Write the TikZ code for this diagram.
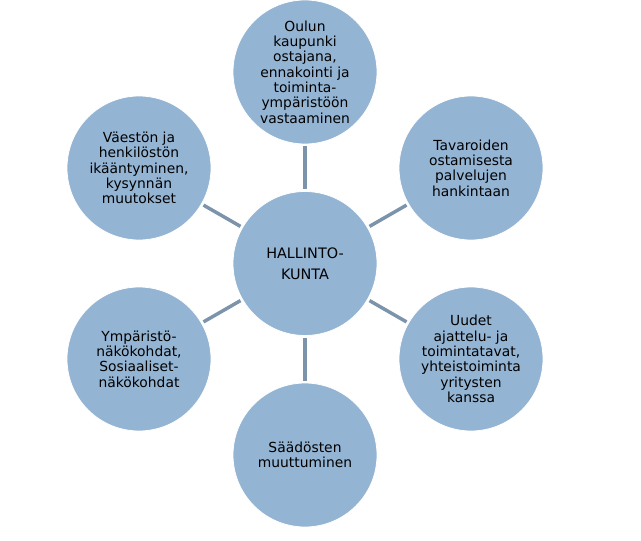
\documentclass[tikz,border=0pt]{standalone}
\usepackage{fontspec}
\setmainfont{DejaVu Sans}
\usetikzlibrary{positioning}
\definecolor{cFill}{HTML}{94B4D3}
\definecolor{cLine}{HTML}{7B94AC}
\tikzset{
  topic/.style={circle,draw=white,line width=0.6pt,fill=cFill,minimum size=108pt,
    inner sep=0pt,align=center,font=\fontsize{10.4}{11.5}\selectfont},
  hub/.style={topic,font=\fontsize{10.8}{15.75}\selectfont},
  spoke/.style={cLine,line width=2.6pt,shorten <=1.5pt,shorten >=1.5pt},
}

\begin{document}
\begin{tikzpicture}[x=0.75pt,y=-0.75pt]
\useasboundingbox (0,0) rectangle (641,541);
% keskus
\node[hub] (kunta) at (305,263.5) {HALLINTO-\\KUNTA};
% ympyrat
\node[topic] (oulu) at (305,72) {Oulun\\kaupunki\\ostajana,\\ennakointi ja\\toiminta-\\ympäristöön\\vastaaminen};
\node[topic] (tavara) at (471,168) {Tavaroiden\\ostamisesta\\palvelujen\\hankintaan};
\node[topic] (uudet) at (471,359) {Uudet\\ajattelu- ja\\toimintatavat,\\yhteistoiminta\\yritysten\\kanssa};
\node[topic] (saados) at (305,455) {Säädösten\\muuttuminen};
\node[topic] (ymparisto) at (139,359) {Ympäristö-\\näkökohdat,\\Sosiaaliset-\\näkökohdat};
\node[topic] (vaesto) at (139,168) {Väestön ja\\henkilöstön\\ikääntyminen,\\kysynnän\\muutokset};
% viivat
\foreach \n in {oulu,tavara,uudet,saados,ymparisto,vaesto}
  \draw[spoke] (\n) -- (kunta);
\end{tikzpicture}
\end{document}
